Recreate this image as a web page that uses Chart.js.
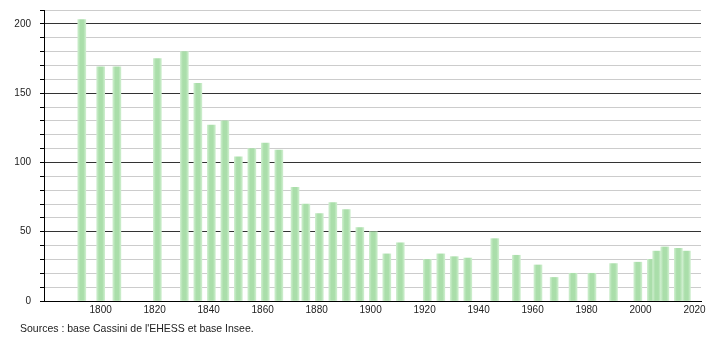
<!DOCTYPE html>
<html>
<head>
<meta charset="utf-8">
<script src="https://cdn.jsdelivr.net/npm/chart.js@4"></script>
<style>
  html, body { margin: 0; padding: 0; background: #fff; }
  #wrap { width: 710px; height: 340px; position: relative; }
</style>
</head>
<body>
<div id="wrap"><canvas id="pop-chart" width="710" height="340"></canvas></div>
<script>
// Population by census year
const years = [1793, 1800, 1806, 1821, 1831, 1836, 1841, 1846, 1851, 1856, 1861, 1866,
  1872, 1876, 1881, 1886, 1891, 1896, 1901, 1906, 1911, 1921, 1926, 1931, 1936,
  1946, 1954, 1962, 1968, 1975, 1982, 1990, 1999, 2004, 2006, 2009, 2014, 2017];
const population = [203, 169, 169, 175, 180, 157, 127, 130, 104, 110, 114, 109,
  82, 70, 63, 71, 66, 53, 50, 34, 42, 30, 34, 32, 31,
  45, 33, 26, 17, 20, 20, 27, 28, 30, 36, 39, 38, 36];
const xTicks = [1800, 1820, 1840, 1860, 1880, 1900, 1920, 1940, 1960, 1980, 2000, 2020];
const yLabels = [0, 50, 100, 150, 200];
const sourceText = "Sources : base Cassini de l'EHESS et base Insee.";

const FONT = "'Liberation Sans', Arial, sans-serif";
const BAR_W = 8;

// horizontal gradient per bar : pale edges, green middle
function barFill(c) {
  const chart = c.chart;
  const xs = chart.scales.x;
  if (!xs || !c.raw) return '#aadeaa';
  const px = xs.getPixelForValue(c.raw.x);
  if (!isFinite(px)) return '#aadeaa';
  const g = chart.ctx.createLinearGradient(px - BAR_W / 2, 0, px + BAR_W / 2, 0);
  g.addColorStop(0, '#cdeecd');
  g.addColorStop(0.3, '#aadeaa');
  g.addColorStop(0.7, '#aadeaa');
  g.addColorStop(1, '#cdeecd');
  return g;
}

const sourcePlugin = {
  id: 'source',
  afterDraw(chart) {
    const ctx = chart.ctx;
    ctx.save();
    ctx.font = '10.5px ' + FONT;
    ctx.fillStyle = '#222';
    ctx.textBaseline = 'middle';
    ctx.fillText(sourceText, 20, 329);
    ctx.restore();
  }
};

new Chart(document.getElementById('pop-chart'), {
  type: 'bar',
  data: {
    datasets: [{
      data: years.map((y, i) => ({ x: y, y: population[i] })),
      backgroundColor: barFill,
      borderWidth: 0,
      barThickness: BAR_W
    }]
  },
  options: {
    responsive: false,
    animation: false,
    events: [],
    layout: { padding: { top: 10, right: 9, left: 0, bottom: 0 } },
    plugins: { legend: { display: false }, tooltip: { enabled: false } },
    scales: {
      x: {
        type: 'linear',
        offset: false,
        min: 1779,
        max: 2022.4,
        afterFit: s => { s.height = 39; },
        afterBuildTicks: s => { s.ticks = xTicks.map(v => ({ value: v })); },
        ticks: {
          font: { family: FONT, size: 10 },
          color: '#222',
          padding: 3,
          maxRotation: 0,
          autoSkip: false,
          callback: v => String(v)
        },
        grid: { display: false, drawTicks: false },
        border: { display: true, color: '#000', width: 1 }
      },
      y: {
        min: 0,
        max: 210,
        afterFit: s => { s.width = 44; s.paddingTop = 0; s.paddingBottom = 0; },
        ticks: {
          stepSize: 10,
          maxTicksLimit: 40,
          autoSkip: false,
          font: { family: FONT, size: 10 },
          color: '#222',
          padding: 9,
          callback: v => (yLabels.includes(v) ? String(v) : '')
        },
        grid: {
          color: c => (c.tick && c.tick.value % 50 === 0 ? '#333' : '#cccccc'),
          tickColor: '#000',
          tickLength: 4,
          lineWidth: 1
        },
        border: { display: true, color: '#000', width: 1 }
      }
    }
  },
  plugins: [sourcePlugin]
});
</script>
</body>
</html>
